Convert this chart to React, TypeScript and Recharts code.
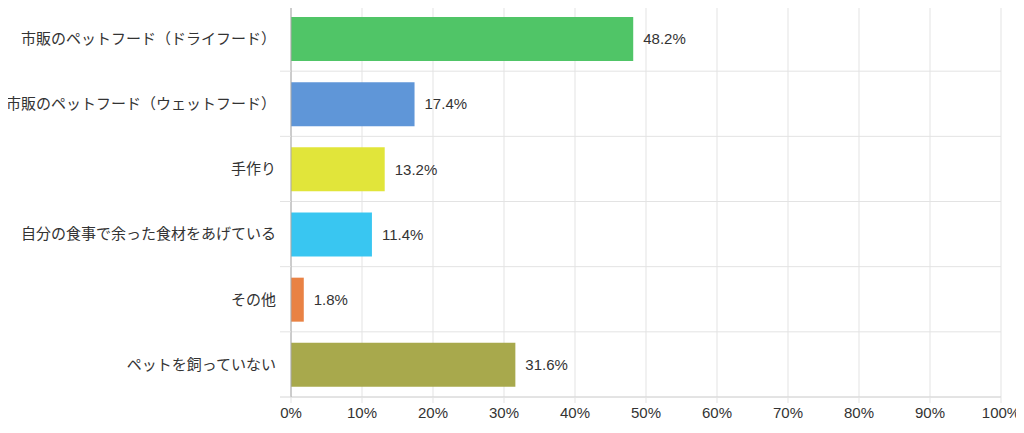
import React from "react";
import { BarChart, Bar, XAxis, YAxis, CartesianGrid, Cell, LabelList } from "recharts";

const categories = [
  "市販のペットフード（ドライフード）",
  "市販のペットフード（ウェットフード）",
  "手作り",
  "自分の食事で余った食材をあげている",
  "その他",
  "ペットを飼っていない",
];
const values = [48.2, 17.4, 13.2, 11.4, 1.8, 31.6];
const colors = ["#47c25f", "#5690d6", "#dfe42f", "#2ec3f0", "#e87b3a", "#a3a442"];
const xTicks = [0, 10, 20, 30, 40, 50, 60, 70, 80, 90, 100];

const data = categories.map((name, i) => ({ name, value: values[i] }));

const W = 1024;
const H = 433;
const M = { top: 6, right: 23, bottom: 0, left: 0 };
const X_AXIS_H = 36;
const Y_AXIS_W = 291;
const TICK_SIZE = 11;
const TICK_MARGIN = 4;
const band = (H - M.top - M.bottom - X_AXIS_H) / categories.length;
const font = "'Liberation Sans', Arial, 'Noto Sans CJK JP', sans-serif";

function CategoryTick(props: any) {
  const { x, y, payload, index } = props;
  const lx1 = x + TICK_MARGIN;
  const lx2 = lx1 + TICK_SIZE;
  return (
    <g>
      <line x1={lx1} x2={lx2} y1={y - band / 2} y2={y - band / 2} stroke="#e3e3e3" />
      {index === categories.length - 1 && (
        <line x1={lx1} x2={lx2} y1={y + band / 2} y2={y + band / 2} stroke="#d6d6d6" />
      )}
      <text x={x} y={y} dy="0.35em" textAnchor="end" fill="#333" fontSize={15} fontFamily={font}>
        {payload.value}
      </text>
    </g>
  );
}

export default function App() {
  return (
    <div style={{ margin: -8, background: "#fff", width: W, height: H }}>
      <BarChart width={W} height={H} data={data} layout="vertical" margin={M}>
        <CartesianGrid
          stroke="#e3e3e3"
          horizontalCoordinatesGenerator={({ offset }: any) =>
            categories
              .map((_, i) => offset.top + (offset.height * i) / categories.length)
              .concat(offset.top + offset.height)
          }
        />
        <XAxis
          type="number"
          domain={[0, 100]}
          ticks={xTicks}
          tickFormatter={(v) => `${v}%`}
          height={X_AXIS_H}
          axisLine={{ stroke: "#d6d6d6" }}
          tickLine={{ stroke: "#e3e3e3" }}
          tickSize={6}
          tickMargin={4}
          tick={{ fill: "#333", fontSize: 15, fontFamily: font }}
          interval={0}
        />
        <YAxis
          type="category"
          dataKey="name"
          width={Y_AXIS_W}
          axisLine={{ stroke: "#a8a8a8" }}
          tickLine={false}
          tickSize={TICK_SIZE}
          tickMargin={TICK_MARGIN}
          tick={<CategoryTick />}
          interval={0}
        />
        <Bar dataKey="value" barSize={44} isAnimationActive={false} fillOpacity={0.95}>
          {data.map((d, i) => (
            <Cell key={d.name} fill={colors[i]} />
          ))}
          <LabelList
            dataKey="value"
            position="right"
            offset={10}
            formatter={(v: any) => `${v}%`}
            fill="#333"
            fontSize={15}
            fontFamily={font}
          />
        </Bar>
      </BarChart>
    </div>
  );
}
